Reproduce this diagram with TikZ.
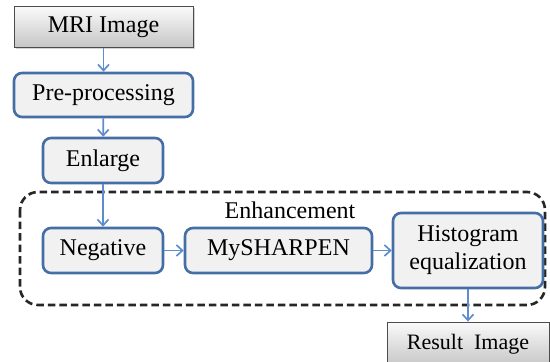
\documentclass[tikz,border=0pt]{standalone}
\usepackage{fontspec}
\setmainfont{Liberation Serif}
\usetikzlibrary{arrows.meta,shadows}
\definecolor{boxblue}{RGB}{68,110,165}
\definecolor{arrowblue}{RGB}{95,140,205}
\definecolor{boxfill}{RGB}{241,241,241}
\tikzset{
  boxfont/.style={font=\fontsize{24}{28}\selectfont},
  stepbox/.style={boxfont, draw=boxblue, line width=2.6pt, fill=boxfill, rounded corners=8pt,
    inner sep=0pt, minimum height=45pt, align=center},
  imagebox/.style={boxfont, draw=black!70, line width=0.9pt, top color=gray!4, bottom color=gray!45,
    inner sep=0pt, minimum height=41pt,
    drop shadow={shadow xshift=1.5pt, shadow yshift=-1.5pt, opacity=0.35}},
  flow/.style={-{Straight Barb[length=6pt,width=11pt]}, draw=arrowblue, line width=1.7pt}
}

\begin{document}
\begin{tikzpicture}[x=1pt,y=-1pt]
    \useasboundingbox (0,0) rectangle (550,362);
    % Enhancement group
    \draw[black!85, line width=2.6pt, dash pattern=on 7.5pt off 4pt, rounded corners=18pt]
      (20,192) rectangle (545,305);
    \node[boxfont] (enhance) at (290,210) {Enhancement};
    % Input and output images
    \node[imagebox, minimum width=179pt] (mri) at (103.5,27) {MRI Image};
    \node[imagebox, minimum width=162pt, minimum height=44pt,
      font=\fontsize{22}{26}\selectfont] (result) at (468,344) {Result\ \ Image};
    % Processing steps
    \node[stepbox, minimum width=179pt, minimum height=44pt] (pre) at (103.5,95) {Pre-processing};
    \node[stepbox, minimum width=120pt] (enlarge) at (103,160.5) {Enlarge};
    \node[stepbox, minimum width=120pt] (negative) at (103,250.5) {Negative};
    \node[stepbox, minimum width=187pt] (sharpen) at (278.5,250.5) {MySHARPEN};
    \node[stepbox, minimum width=150pt, minimum height=75pt] (histeq) at (468,250.5) {Histogram\\equalization};
    % Connectors
    \draw[flow] (mri) -- (pre);
    \draw[flow] (pre) -- (enlarge);
    \draw[flow] (enlarge) -- (negative);
    \draw[flow] (negative) -- (sharpen);
    \draw[flow] (sharpen) -- (histeq);
    \draw[flow] (histeq) -- (result);
  \end{tikzpicture}
\end{document}
